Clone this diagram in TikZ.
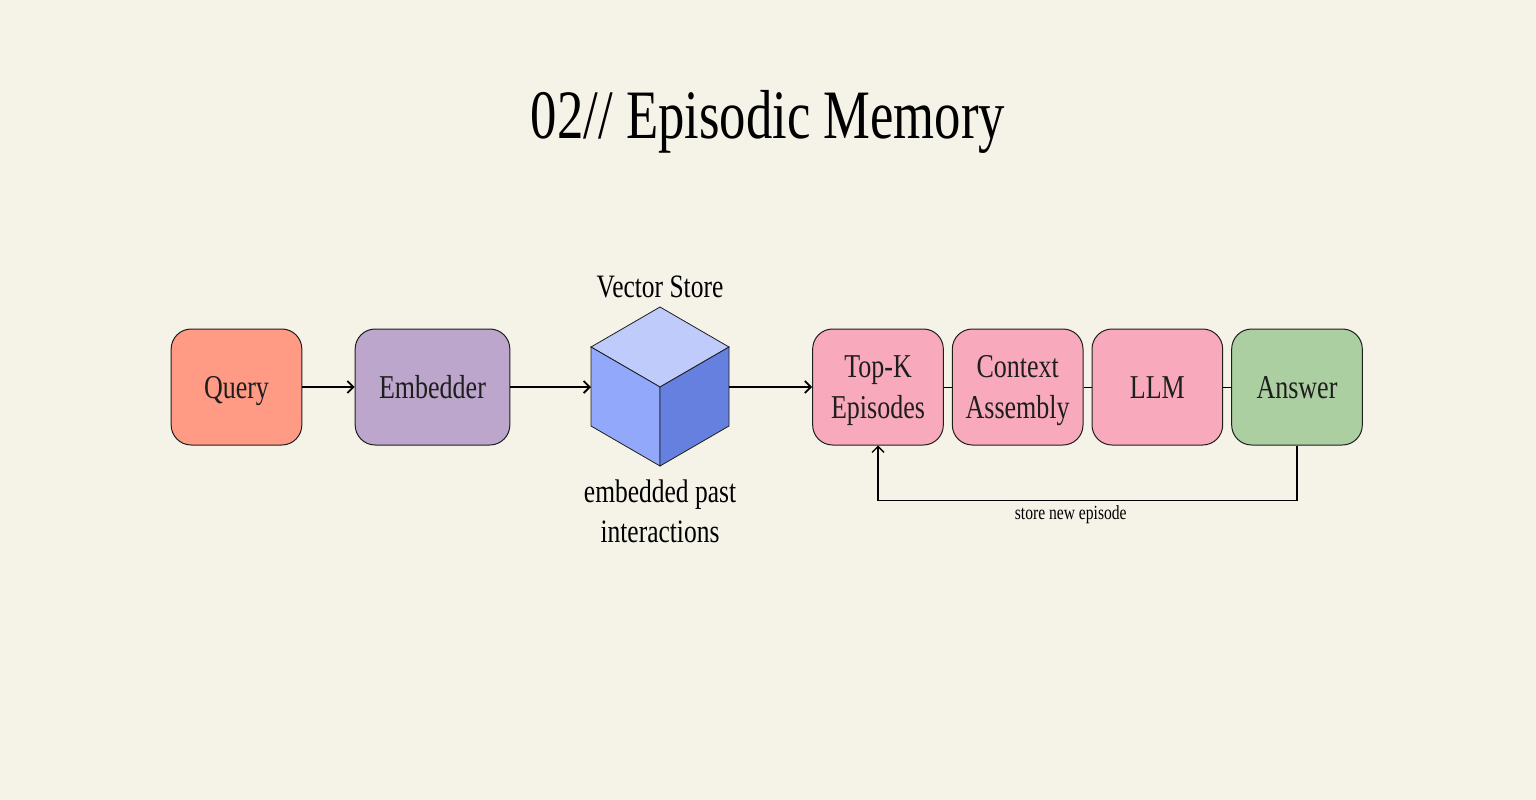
\documentclass[tikz,border=0pt]{standalone}
\usepackage{fontspec}
\setmainfont[FakeStretch=0.78]{Liberation Serif}
\newfontfamily\titlefont[FakeStretch=0.76]{Liberation Serif}
\usepackage{tikz}
\usetikzlibrary{arrows.meta, positioning}
\definecolor{paperBg}{RGB}{245, 243, 232}
\definecolor{inkDark}{RGB}{30, 30, 30}
\definecolor{queryOrange}{RGB}{255, 154, 133}
\definecolor{embedPurple}{RGB}{188, 166, 204}
\definecolor{recallPink}{RGB}{248, 170, 188}
\definecolor{answerGreen}{RGB}{172, 207, 162}
\definecolor{cubeTop}{RGB}{191, 203, 251}
\definecolor{cubeLeft}{RGB}{146, 168, 250}
\definecolor{cubeRight}{RGB}{102, 128, 223}

\begin{document}
\begin{tikzpicture}[
    x=0.75pt, y=-0.75pt,
    node distance=6pt,
    % Node styles
    stage/.style={
        rectangle,
        rounded corners=15pt,
        draw=inkDark,
        line width=0.75pt,
        minimum width=98pt,
        minimum height=87pt,
        align=center,
        text depth=0pt,
        font=\fontsize{25}{31}\selectfont,
        text=inkDark
    },
    oneline/.style={
        text height=17pt
    },
    caption/.style={
        align=center,
        font=\fontsize{24.5}{30}\selectfont,
        text=black
    },
    arrow/.style={
        -{Straight Barb[length=4.5pt,width=9pt]},
        line width=1.4pt,
        color=black
    },
    link/.style={
        line width=0.75pt,
        color=black
    }
]
\useasboundingbox[fill=paperBg] (0,0) rectangle (1536,800);

% Title
\node[font=\titlefont\fontsize{52}{58}\selectfont] (title) at (768,122) {02// Episodic Memory};

% Input side
\node[stage, oneline, fill=queryOrange] (query) at (236.5,387) {Query};
\node[stage, oneline, fill=embedPurple, minimum width=116pt] (embedder) at (432.5,387) {Embedder};

% Vector store cube
\coordinate (vsC) at (660,387);
\coordinate (vsL) at (591,387);
\coordinate (vsR) at (729,387);
\fill[cubeTop, draw=inkDark, line width=0.6pt] (660,307) -- (729,347) -- (660,387) -- (591,347) -- cycle;
\fill[cubeLeft, draw=inkDark, line width=0.6pt] (591,347) -- (660,387) -- (660,466) -- (591,426) -- cycle;
\fill[cubeRight, draw=inkDark, line width=0.6pt] (729,347) -- (660,387) -- (660,466) -- (729,426) -- cycle;
\node[caption] (vslabel) at (660,287) {Vector Store};
\node[caption] (vsnote) at (660,511) {embedded past\\interactions};

% Recall chain
\node[stage, fill=recallPink] (topk) at (878,387) {Top-K\\Episodes};
\node[stage, fill=recallPink, right=of topk] (context) {Context\\Assembly};
\node[stage, oneline, fill=recallPink, right=of context] (llm) {LLM};
\node[stage, oneline, fill=answerGreen, right=of llm] (answer) {Answer};

% Arrows
\draw[arrow] (query) -- (embedder);
\draw[arrow] (embedder) -- (vsL);
\draw[arrow] (vsR) -- (topk);
\draw[link] (topk) -- (context);
\draw[link] (context) -- (llm);
\draw[link] (llm) -- (answer);
\draw[arrow, line width=1pt] (answer.south) -- ++(0,55) -| (topk.south)
    node[pos=0.27, below=0pt, font=\fontsize{15}{18}\selectfont] (storelabel) {store new episode};

\end{tikzpicture}
\end{document}
